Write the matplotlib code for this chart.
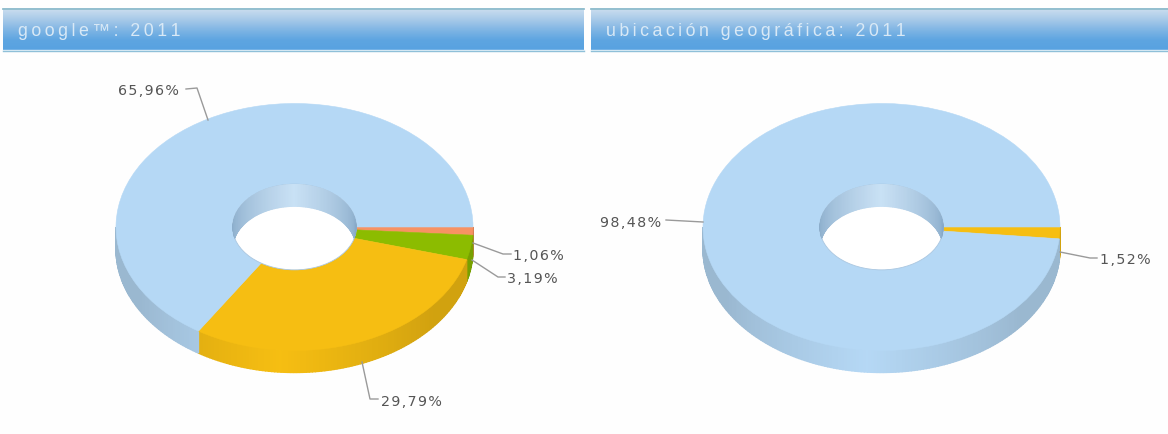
import matplotlib
matplotlib.use("Agg")
import matplotlib.pyplot as plt
import numpy as np
from matplotlib.patches import Wedge, Ellipse
from matplotlib.transforms import Affine2D
from matplotlib.colors import to_rgb, LinearSegmentedColormap

# values
titles = ["google™: 2011", "ubicación geográfica: 2011"]
left_values = [1.06, 3.19, 29.79, 65.96]
left_colors = ["#f79263", "#8cbc00", "#f6be12", "#b5d8f5"]
left_labels = ["1,06%", "3,19%", "29,79%", "65,96%"]
right_values = [1.52, 98.48]
right_colors = ["#f6be12", "#b5d8f5"]
right_labels = ["1,52%", "98,48%"]

W, H = 1168, 435
RX, RY, DEPTH = 178.5, 123.5, 22
HOLE = 0.347
CY = 228


def px_font(p):
    return p * 0.72


def header(ax, x0, x1, title):
    cmap = LinearSegmentedColormap.from_list(
        "hd", ["#c6dbee", "#a5c8e8", "#7fb5e4", "#5ea5e1", "#58a2e0"])
    grad = np.linspace(0, 1, 64).reshape(-1, 1)
    ax.imshow(grad, cmap=cmap, extent=[x0, x1, 50.5, 11], aspect="auto", zorder=1)
    ax.plot([x0, x1], [9.7, 9.7], color="#7fb3c6", lw=1.2, zorder=2)
    ax.plot([x0, x1], [50.7, 50.7], color="#e6f2fa", lw=1, zorder=2)
    ax.plot([x0, x1], [52, 52], color="#8fc0d8", lw=1, zorder=2)
    ax.text(x0 + 15, 32, "\u2009".join(title), color="#d9e9f6", fontsize=px_font(17.8),
            family="Liberation Sans", va="center", ha="left", zorder=3)


def donut(ax, cx, values, colors):
    tr = Affine2D().scale(RX, RY).translate(cx, CY) + ax.transData
    edges = np.cumsum([0] + list(values)) * 3.6
    # outer wall, front half only
    for i, c in enumerate(colors):
        a0, a1 = edges[i], min(edges[i + 1], 180)
        if a0 >= 180:
            continue
        steps = np.arange(a0, a1 + 0.01, 1.0)
        if steps[-1] < a1:
            steps = np.append(steps, a1)
        base = np.array(to_rgb(c))
        for s0, s1 in zip(steps[:-1], steps[1:]):
            xs = cx + RX * np.cos(np.radians([s0, s1, s1, s0]))
            ys = CY + RY * np.sin(np.radians([s0, s1, s1, s0])) + np.array([0, 0, DEPTH, DEPTH])
            t = abs((s0 + s1) / 2 - 95) / 95
            shade = base * (1 - 0.15 * min(1, t * 1.7))
            ax.fill(xs, ys, color=shade, lw=1.0, zorder=4)
    # top surface
    for i, c in enumerate(colors):
        ax.add_patch(Wedge((0, 0), 1, edges[i], edges[i + 1], width=1 - HOLE,
                           facecolor=c, edgecolor=c, lw=0.4, transform=tr, zorder=5))
    # hole with the inner wall seen through it
    hole = Ellipse((cx, CY), 2 * RX * HOLE, 2 * RY * HOLE, facecolor="white",
                   edgecolor="#a9c6e0", lw=0.6, zorder=6)
    ax.add_patch(hole)
    for s in np.arange(180, 360, 1.5):
        xs = cx + RX * HOLE * np.cos(np.radians([s, s + 1.5, s + 1.5, s]))
        ys = CY + RY * HOLE * np.sin(np.radians([s, s + 1.5, s + 1.5, s])) + np.array([0, 0, DEPTH, DEPTH])
        t = abs(s + 0.75 - 270) / 90
        col = np.array(to_rgb("#c9e1f5")) * (1 - t) + np.array(to_rgb("#86a9c8")) * t
        poly = ax.fill(xs, ys, color=col, lw=1.0, zorder=7)[0]
        poly.set_clip_path(hole)


def leader(ax, pts, label, x, y):
    xs, ys = zip(*pts)
    ax.plot(xs, ys, color="#9a9a9a", lw=1, zorder=8, solid_joinstyle="round")
    ax.text(x, y + 1, "\u200a".join(label), color="#555555", fontsize=px_font(14.3),
            family="DejaVu Sans", va="center", ha="left", zorder=9)


fig = plt.figure(figsize=(W / 100, H / 100), dpi=100, facecolor="#fefefe")
ax = fig.add_axes([0, 0, 1, 1])

header(ax, 3, 584, titles[0])
header(ax, 591, 1168, titles[1])

donut(ax, 294.5, left_values, left_colors)
donut(ax, 881.5, right_values, right_colors)

leader(ax, [(473, 244), (503, 255), (511, 255)], left_labels[0], 513, 255)
leader(ax, [(472, 261), (498, 278), (505, 278)], left_labels[1], 507, 278)
leader(ax, [(362, 363), (370, 400), (378, 400)], left_labels[2], 381, 401)
leader(ax, [(186, 90), (197, 89), (208, 121)], left_labels[3], 118, 90)
leader(ax, [(1060, 253), (1090, 259), (1097, 259)], right_labels[0], 1100, 259)
leader(ax, [(666, 221), (703, 223)], right_labels[1], 600, 222)

ax.set_xlim(0, W)
ax.set_ylim(H, 0)
ax.axis("off")

fig.savefig("out.png", dpi=100, facecolor=fig.get_facecolor())
